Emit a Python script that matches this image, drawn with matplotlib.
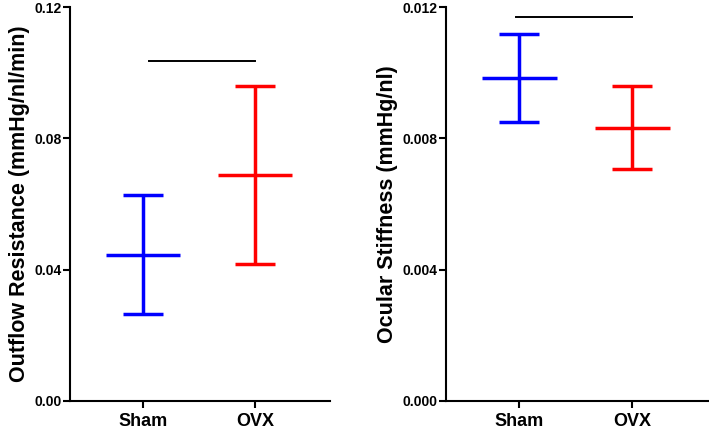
import matplotlib
matplotlib.use("Agg")
import matplotlib.pyplot as plt

plt.rcParams['font.family'] = ['Liberation Sans', 'DejaVu Sans']
plt.rcParams['font.weight'] = 'bold'

groups = ["Sham", "OVX"]
colors = ["#0000ff", "#ff0000"]

res_mean = [0.0445, 0.0688]
res_err = [0.0182, 0.0272]
res_sig = 0.1036
res_ticks = [0.00, 0.04, 0.08, 0.12]
res_ticklabels = ["0.00", "0.04", "0.08", "0.12"]

stf_mean = [0.00984, 0.00833]
stf_err = [0.00135, 0.00127]
stf_sig = 0.01169
stf_ticks = [0.000, 0.004, 0.008, 0.012]
stf_ticklabels = ["0.000", "0.004", "0.008", "0.012"]

fig = plt.figure(figsize=(7.09, 4.33), dpi=100)
ax1 = fig.add_axes([0.0983, 0.0746, 0.367, 0.9085])
ax2 = fig.add_axes([0.629, 0.0746, 0.3695, 0.9085])


def panel(ax, mean, err, sig, ticks, ticklabels, ylabel, sig_x0):
    x = list(range(len(groups)))
    for i in x:
        ax.errorbar([i], [mean[i]], yerr=[err[i]], fmt='none', ecolor=colors[i],
                    elinewidth=2.5, capsize=14.5, capthick=2.5)
        ax.plot([i - 0.33, i + 0.33], [mean[i], mean[i]], color=colors[i], lw=2.5,
                solid_capstyle='butt')
    ax.plot([sig_x0, 1], [sig, sig], color='black', lw=1.4)
    ax.set_xlim(-0.65, 1.67)
    ax.set_ylim(ticks[0], ticks[-1])
    ax.set_yticks(ticks)
    ax.set_yticklabels(ticklabels, fontsize=10, fontweight='bold')
    ax.set_xticks(x)
    ax.set_xticklabels(groups, fontsize=13, fontweight='bold')
    ax.set_ylabel(ylabel, fontsize=15.5, fontweight='bold', labelpad=3)
    for s in ['top', 'right']:
        ax.spines[s].set_visible(False)
    for s in ['left', 'bottom']:
        ax.spines[s].set_linewidth(1.5)
    ax.tick_params(axis='y', width=1.5, length=5, pad=1)
    ax.tick_params(axis='x', width=1.5, length=5, pad=4)


panel(ax1, res_mean, res_err, res_sig, res_ticks, res_ticklabels,
      "Outflow Resistance (mmHg/nl/min)", 0.06)
panel(ax2, stf_mean, stf_err, stf_sig, stf_ticks, stf_ticklabels,
      "Ocular Stiffness (mmHg/nl)", -0.03)

fig.savefig("out.png", dpi=100)
